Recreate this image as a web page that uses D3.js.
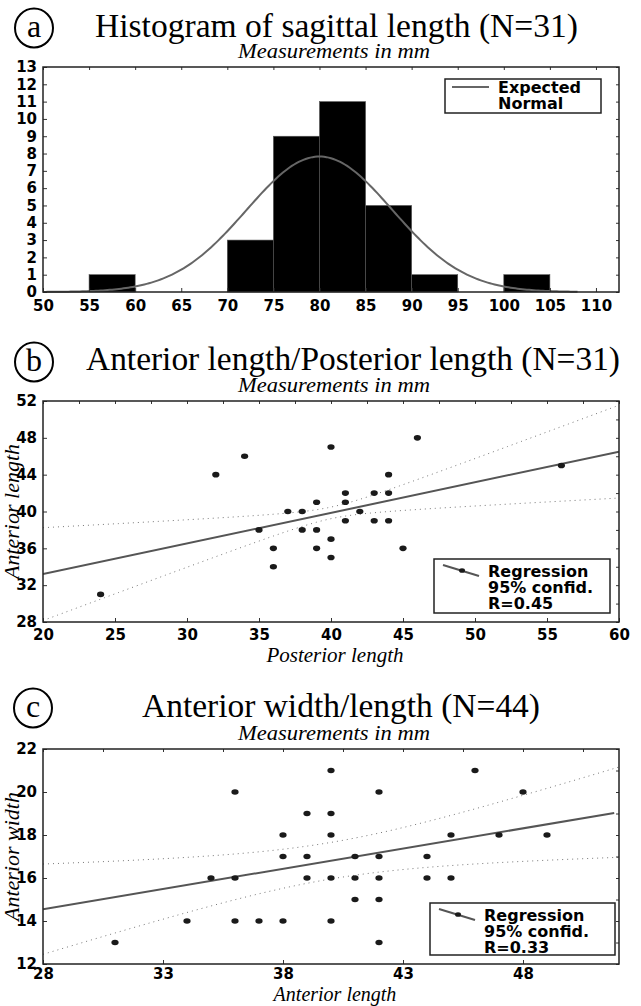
<!DOCTYPE html>
<html>
<head>
<meta charset="utf-8">
<script src="https://cdn.jsdelivr.net/npm/d3@7"></script>
<style>
body { margin: 0; background: #fff; }
svg { display: block; }
.tick text { font-family: "DejaVu Sans", Arial, sans-serif; font-weight: bold; font-size: 15px; fill: #000; }
.tick line { stroke: #333; }
.serif { font-family: "Liberation Serif", "Times New Roman", serif; }
.legend { font-family: "DejaVu Sans", Arial, sans-serif; font-weight: bold; font-size: 16px; }
</style>
</head>
<body>
<svg id="chart" width="641" height="1006"></svg>
<script>
// (a) histogram of sagittal length
const histBinStart = [50, 55, 60, 65, 70, 75, 80, 85, 90, 95, 100, 105];
const histCounts = [0, 1, 0, 0, 3, 9, 11, 5, 1, 0, 1, 0];
const histXTicks = [50, 55, 60, 65, 70, 75, 80, 85, 90, 95, 100, 105, 110];
const histYTicks = [0, 1, 2, 3, 4, 5, 6, 7, 8, 9, 10, 11, 12, 13];
const normalMean = 80, normalSd = 7.9, histN = 31, histBinWidth = 5;

// (b) anterior length vs posterior length
const postLength = [46, 40, 34, 32, 44, 41, 43, 44, 39, 41, 37, 38, 42, 41, 43, 44, 35, 38, 39, 40, 36, 39, 45, 40, 36, 24, 56];
const antLengthB = [48, 47, 46, 44, 44, 42, 42, 42, 41, 41, 40, 40, 40, 39, 39, 39, 38, 38, 38, 37, 36, 36, 36, 35, 34, 31, 45];
const bXTicks = [20, 25, 30, 35, 40, 45, 50, 55, 60];
const bYTicks = [28, 32, 36, 40, 44, 48, 52];
const regB = { intercept: 26.55, slope: 0.3325, xMean: 40, a: 0.63, b: 0.25, r: "0.45" };

// (c) anterior width vs anterior length
const antLengthC = [40, 46, 36, 42, 48, 39, 40, 38, 40, 45, 47, 49, 38, 39, 41, 42, 44, 35, 36, 39, 40, 41, 42, 44, 45, 41, 42, 34, 36, 37, 38, 40, 31, 42];
const antWidthC = [21, 21, 20, 20, 20, 19, 19, 18, 18, 18, 18, 18, 17, 17, 17, 17, 17, 16, 16, 16, 16, 16, 16, 16, 16, 15, 15, 14, 14, 14, 14, 14, 13, 13];
const cXTicks = [28, 33, 38, 43, 48];
const cYTicks = [12, 14, 16, 18, 20, 22];
const regC = { intercept: 9.286, slope: 0.188, xMean: 40, a: 0.85, b: 0.16, r: "0.33" };

const svg = d3.select("#chart");

// circled letter + title + subtitle
function header(letter, cx, cy, title, tx, tw, ty, subY) {
	svg.append("ellipse")
		.attr("cx", cx).attr("cy", cy).attr("rx", 19).attr("ry", 19.5)
		.attr("fill", "none").attr("stroke", "#000").attr("stroke-width", 2);
	svg.append("text").attr("class", "serif")
		.attr("x", cx).attr("y", cy + 9).attr("text-anchor", "middle")
		.attr("font-size", 32).text(letter);
	svg.append("text").attr("class", "serif")
		.attr("x", tx).attr("y", ty).attr("font-size", 33)
		.attr("textLength", tw).attr("lengthAdjust", "spacingAndGlyphs")
		.text(title);
	svg.append("text").attr("class", "serif")
		.attr("x", 238).attr("y", subY).attr("font-size", 20).attr("font-style", "italic")
		.attr("textLength", 192).attr("lengthAdjust", "spacingAndGlyphs")
		.text("Measurements in mm");
}

// frame with inward ticks on all four sides
function frame(g, x, y, xTicks, yTicks, xMinor, yMinor, xPad) {
	const [x0, x1] = x.range(), [y1, y0] = y.range();
	g.append("g").attr("transform", `translate(0,${y1})`)
		.call(d3.axisBottom(x).tickValues(xTicks).tickSize(-4).tickPadding(xPad))
		.call(a => a.select(".domain").remove());
	g.append("g").attr("transform", `translate(${x0},0)`)
		.call(d3.axisLeft(y).tickValues(yTicks).tickSize(-4).tickPadding(6))
		.call(a => a.select(".domain").remove());
	g.append("g").attr("transform", `translate(0,${y0})`)
		.call(d3.axisTop(x).tickValues(xMinor).tickSize(-3).tickFormat(""))
		.call(a => a.select(".domain").remove());
	g.append("g").attr("transform", `translate(${x1},0)`)
		.call(d3.axisRight(y).tickValues(yMinor).tickSize(-3).tickFormat(""))
		.call(a => a.select(".domain").remove());
	g.append("rect")
		.attr("x", x0).attr("y", y0).attr("width", x1 - x0).attr("height", y1 - y0)
		.attr("fill", "none").attr("stroke", "#222").attr("stroke-width", 1.5);
}

// ---- panel a ----
header("a", 34, 28, "Histogram of sagittal length (N=31)", 95, 483, 37, 58);
{
	const g = svg.append("g");
	const x = d3.scaleLinear().domain([50, 112.5]).range([43, 619]);
	const y = d3.scaleLinear().domain([0, 13]).range([292, 67]);

	g.selectAll("rect.bar")
		.data(histBinStart.map((s, i) => ({ s, c: histCounts[i] })).filter(d => d.c > 0))
		.enter().append("rect").attr("class", "bar")
		.attr("x", d => x(d.s)).attr("width", d => x(d.s + histBinWidth) - x(d.s))
		.attr("y", d => y(d.c)).attr("height", d => y(0) - y(d.c))
		.attr("fill", "#000").attr("stroke", "#555").attr("stroke-width", 0.6);

	const dens = v => histN * histBinWidth / (normalSd * Math.sqrt(2 * Math.PI)) *
		Math.exp(-0.5 * Math.pow((v - normalMean) / normalSd, 2));
	g.append("path")
		.datum(d3.range(50, 108.01, 0.25))
		.attr("d", d3.line().x(v => x(v)).y(v => y(dens(v))))
		.attr("fill", "none").attr("stroke", "#666").attr("stroke-width", 2);

	frame(g, x, y, histXTicks, histYTicks, histXTicks, histYTicks, 8);

	const lg = g.append("g").attr("class", "legend");
	lg.append("rect").attr("x", 445).attr("y", 79).attr("width", 156).attr("height", 34)
		.attr("fill", "#fff").attr("stroke", "#222").attr("stroke-width", 1.5);
	lg.append("line").attr("x1", 452).attr("x2", 489).attr("y1", 87).attr("y2", 87)
		.attr("stroke", "#666").attr("stroke-width", 2);
	lg.append("text").attr("x", 498).attr("y", 93).text("Expected");
	lg.append("text").attr("x", 498).attr("y", 109).text("Normal");
}

// ---- scatter panels ----
function scatter(opt) {
	const g = svg.append("g");
	const x = d3.scaleLinear().domain(opt.xDomain).range([43, 619]);
	const y = d3.scaleLinear().domain(opt.yDomain).range([opt.bottom, opt.top]);
	const clipId = "clip" + opt.top;
	g.append("clipPath").attr("id", clipId).append("rect")
		.attr("x", 43).attr("y", opt.top).attr("width", 576).attr("height", opt.bottom - opt.top);

	const reg = opt.reg;
	const fit = v => reg.intercept + reg.slope * v;
	const hw = v => Math.sqrt(reg.a * reg.a + reg.b * reg.b * (v - reg.xMean) * (v - reg.xMean));
	const xs = d3.range(opt.xDomain[0], opt.xDomain[1] + 0.001, 0.25);
	const plot = g.append("g").attr("clip-path", `url(#${clipId})`);
	[1, -1].forEach(sgn => {
		plot.append("path").datum(xs)
			.attr("d", d3.line().x(v => x(v)).y(v => y(fit(v) + sgn * hw(v))))
			.attr("fill", "none").attr("stroke", "#777").attr("stroke-width", 1)
			.attr("stroke-dasharray", "1,4");
	});
	plot.append("line")
		.attr("x1", x(opt.xDomain[0])).attr("y1", y(fit(opt.xDomain[0])))
		.attr("x2", x(opt.lineEnd)).attr("y2", y(fit(opt.lineEnd)))
		.attr("stroke", "#555").attr("stroke-width", 2);

	plot.selectAll("ellipse")
		.data(opt.xv.map((v, i) => [v, opt.yv[i]]))
		.enter().append("ellipse")
		.attr("cx", d => x(d[0])).attr("cy", d => y(d[1]))
		.attr("rx", 3.6).attr("ry", 2.8).attr("fill", "#1a1a1a");

	frame(g, x, y, opt.xTicks, opt.yTicks, opt.xMinor, opt.yMinor, opt.xPad);

	g.append("text").attr("class", "serif")
		.attr("x", 335).attr("y", opt.xTitleY).attr("text-anchor", "middle")
		.attr("font-size", opt.xTitleSize).attr("font-style", "italic").text(opt.xTitle);
	g.append("text").attr("class", "serif")
		.attr("transform", `translate(${opt.yTitleX},${(opt.top + opt.bottom) / 2}) rotate(-90)`)
		.attr("text-anchor", "middle")
		.attr("font-size", 22).attr("font-style", "italic").text(opt.yTitle);

	const L = opt.legend;
	const lg = g.append("g").attr("class", "legend");
	lg.append("rect").attr("x", L.x).attr("y", L.y).attr("width", L.w).attr("height", L.h)
		.attr("fill", "#fff").attr("stroke", "#222").attr("stroke-width", 1.5);
	lg.append("line").attr("x1", L.x + 9).attr("y1", L.y + 6).attr("x2", L.x + 45).attr("y2", L.y + 17)
		.attr("stroke", "#555").attr("stroke-width", 2);
	lg.append("ellipse").attr("cx", L.x + 28).attr("cy", L.y + 11.5).attr("rx", 3).attr("ry", 2.3)
		.attr("fill", "#1a1a1a");
	lg.append("text").attr("x", L.x + 54).attr("y", L.y + 18).text("Regression");
	lg.append("text").attr("x", L.x + 54).attr("y", L.y + 34).text("95% confid.");
	lg.append("text").attr("x", L.x + 54).attr("y", L.y + 50).text("R=" + reg.r);
}

header("b", 34, 362, "Anterior length/Posterior length (N=31)", 86, 534, 370, 392);
scatter({
	xDomain: [20, 60], yDomain: [28, 52], top: 401, bottom: 622,
	xv: postLength, yv: antLengthB, reg: regB, lineEnd: 60,
	xTicks: bXTicks, yTicks: bYTicks, xPad: 7,
	xMinor: d3.range(20, 60.1, 2.5), yMinor: d3.range(28, 52.1, 2),
	xTitle: "Posterior length", xTitleY: 662, xTitleSize: 21,
	yTitle: "Anterior length", yTitleX: 19,
	legend: { x: 434, y: 559, w: 176, h: 54 }
});

header("c", 33, 708, "Anterior width/length (N=44)", 142, 398, 717, 740);
scatter({
	xDomain: [28, 52], yDomain: [12, 22], top: 749, bottom: 964,
	xv: antLengthC, yv: antWidthC, reg: regC, lineEnd: 51.8,
	xTicks: cXTicks, yTicks: cYTicks, xPad: 4,
	xMinor: d3.range(28, 52.1, 2.5), yMinor: d3.range(12, 22.1, 1),
	xTitle: "Anterior length", xTitleY: 1001, xTitleSize: 20,
	yTitle: "Anterior width", yTitleX: 19,
	legend: { x: 430, y: 903, w: 185, h: 52 }
});
</script>
</body>
</html>
